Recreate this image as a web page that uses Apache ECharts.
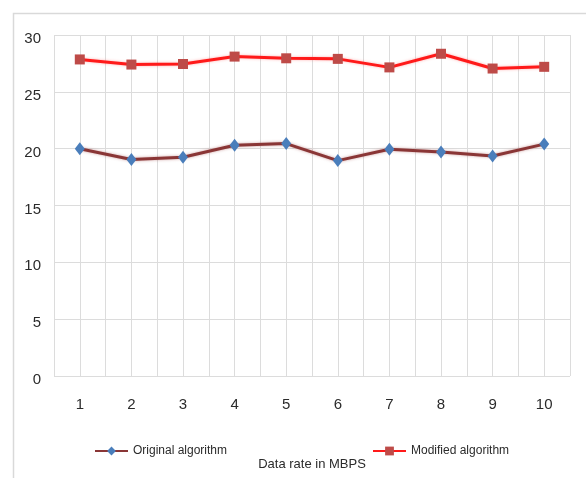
<!DOCTYPE html>
<html>
<head>
<meta charset="utf-8">
<script src="https://cdn.jsdelivr.net/npm/echarts@6/dist/echarts.min.js"></script>
<style>
  html, body { margin: 0; padding: 0; background: #fff; }
  #chart { width: 586px; height: 478px; }
</style>
</head>
<body>
<div id="chart"></div>
<script>
// Data rate (MBPS) samples
const categories = [1, 2, 3, 4, 5, 6, 7, 8, 9, 10];
const originalAlgorithm = [20.0, 19.05, 19.25, 20.3, 20.45, 18.95, 19.95, 19.7, 19.35, 20.4];
const modifiedAlgorithm = [27.85, 27.4, 27.45, 28.1, 27.95, 27.9, 27.15, 28.35, 27.05, 27.2];
const yTicks = { min: 0, max: 30, step: 5 };

const FONT = '"Liberation Sans", Arial, sans-serif';
const TEXT = '#2b2b2b';

const chart = echarts.init(document.getElementById('chart'), null, { renderer: 'canvas' });

chart.setOption({
  animation: false,
  backgroundColor: '#ffffff',
  graphic: [{
    type: 'rect',
    shape: { x: 13.5, y: 13.5, width: 620, height: 520 },
    style: { fill: 'none', stroke: '#d9d9d9', lineWidth: 1.5 },
    silent: true,
    z: -1
  }],
  grid: { left: 54, right: 16, top: 35, bottom: 102, containLabel: false },
  legend: [{
    data: ['Original algorithm'],
    left: 89, top: 440,
    itemWidth: 33, itemHeight: 11,
    textStyle: { fontFamily: FONT, fontSize: 12, color: TEXT }
  }, {
    data: ['Modified algorithm'],
    left: 367, top: 440,
    itemWidth: 33, itemHeight: 11,
    textStyle: { fontFamily: FONT, fontSize: 12, color: TEXT }
  }],
  xAxis: {
    type: 'value',
    min: 0.5, max: 10.5, interval: 0.5,
    name: 'Data rate in MBPS',
    nameLocation: 'middle',
    nameGap: 82,
    nameTextStyle: { fontFamily: FONT, fontSize: 13, color: TEXT },
    axisLine: { show: false },
    axisTick: { show: false },
    axisLabel: {
      margin: 21,
      fontFamily: FONT, fontSize: 15, color: TEXT,
      formatter: v => (Number.isInteger(v) && categories.includes(v)) ? String(v) : ''
    },
    splitLine: { show: true, lineStyle: { color: '#dcdcdc', width: 1 } }
  },
  yAxis: {
    type: 'value',
    min: yTicks.min, max: yTicks.max, interval: yTicks.step,
    axisLine: { show: false },
    axisTick: { show: false },
    axisLabel: {
      margin: 13, verticalAlign: 'top', lineHeight: 8,
      fontFamily: FONT, fontSize: 15, color: TEXT
    },
    splitLine: { show: true, lineStyle: { color: '#dcdcdc', width: 1 } }
  },
  series: [{
    name: 'Original algorithm',
    type: 'line',
    data: categories.map((c, i) => [c, originalAlgorithm[i]]),
    symbol: 'diamond',
    symbolSize: [10, 13],
    itemStyle: { color: '#4a7ebb' },
    lineStyle: { color: '#8a3636', width: 3, shadowColor: 'rgba(160,70,70,0.5)', shadowBlur: 3 },
    z: 3
  }, {
    name: 'Modified algorithm',
    type: 'line',
    data: categories.map((c, i) => [c, modifiedAlgorithm[i]]),
    symbol: 'rect',
    symbolSize: 10,
    itemStyle: { color: '#be4b48' },
    lineStyle: { color: '#ff1a1a', width: 3, shadowColor: 'rgba(255,60,60,0.4)', shadowBlur: 3 },
    z: 4
  }]
});
</script>
</body>
</html>
